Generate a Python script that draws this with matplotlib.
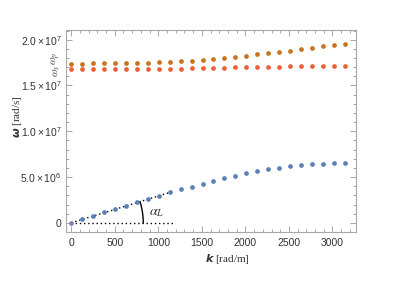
import numpy as np
import matplotlib
matplotlib.use("Agg")
import matplotlib.pyplot as plt
from matplotlib.ticker import MultipleLocator, FixedLocator, FixedFormatter
import matplotlib.transforms as mtrans

# ---- data ----
k_max = 1000 * np.pi
n_points = 26
k = np.linspace(0, k_max, n_points)

omega_p = np.array([1.740, 1.740, 1.741, 1.742, 1.743, 1.744, 1.745, 1.747, 1.753, 1.756,
                    1.764, 1.770, 1.781, 1.789, 1.800, 1.814, 1.825, 1.840, 1.851, 1.866,
                    1.880, 1.895, 1.913, 1.928, 1.942, 1.956]) * 1e7
omega_s = np.array([1.677, 1.678, 1.678, 1.679, 1.679, 1.680, 1.680, 1.681, 1.682, 1.683,
                    1.684, 1.686, 1.688, 1.691, 1.694, 1.697, 1.700, 1.702, 1.704, 1.706,
                    1.708, 1.710, 1.712, 1.714, 1.715, 1.716]) * 1e7
omega_L = np.array([0.00, 0.41, 0.77, 1.14, 1.53, 1.86, 2.26, 2.59, 2.95, 3.32,
                    3.65, 3.93, 4.26, 4.56, 4.85, 5.14, 5.40, 5.62, 5.84, 6.01,
                    6.16, 6.27, 6.38, 6.45, 6.49, 6.52]) * 1e6

tangent_k_end = 1180
tangent_slope = 2.93e3
ref_k_end = 1180

yticks = [0, 5e6, 1e7, 1.5e7, 2e7]
ytick_labels = ["0", r"$5.0\times10^{6}$", r"$1.0\times10^{7}$", r"$1.5\times10^{7}$", r"$2.0\times10^{7}$"]
xticks = [0, 500, 1000, 1500, 2000, 2500, 3000]

c_p = "#c8741c"
c_s = "#ec6038"
c_L = "#5b80b8"
c_0 = "#8a78b6"

plt.rcParams["font.family"] = ["Liberation Sans", "DejaVu Sans"]
plt.rcParams["mathtext.fontset"] = "custom"
plt.rcParams["mathtext.rm"] = "Liberation Sans"
plt.rcParams["mathtext.it"] = "Liberation Sans:italic"
plt.rcParams["mathtext.bf"] = "Liberation Sans:bold"
plt.rcParams["mathtext.bfit"] = "DejaVu Sans:bold:italic"

fig = plt.figure(figsize=(4.1, 2.9), dpi=100)
ax = fig.add_axes([66/410, 1-232/290, 290/410, 202/290])

# reference lines
ax.plot([0, ref_k_end], [0, 0], ls=(0, (1, 2)), color="black", lw=1.0, zorder=1)
ax.plot([0, tangent_k_end], [0, tangent_slope*tangent_k_end], ls=(0, (1, 2)), color="black", lw=1.0, zorder=1)

xlim = (-60, 3270)
ylim = (-1.0e6, 2.106e7)
ax.set_xlim(*xlim)
ax.set_ylim(*ylim)
fig.canvas.draw()
p0 = ax.transData.transform((0, 0))
p1 = ax.transData.transform((tangent_k_end, tangent_slope*tangent_k_end))
ang = np.arctan2(p1[1]-p0[1], p1[0]-p0[0])
r_px = 72
t = np.linspace(0, ang, 40)
pts = np.column_stack([p0[0] + r_px*np.cos(t), p0[1] + r_px*np.sin(t)])
arc_data = ax.transData.inverted().transform(pts)
ax.plot(arc_data[:, 0], arc_data[:, 1], color="black", lw=1.0, zorder=1)

ax.text(985, 1.17e6, r"$\alpha_L$", fontsize=10, ha="center", va="center",
        math_fontfamily="stix", color="#333333")

# series
ms = 3.4
ax.plot(k, omega_p, "o", color=c_p, ms=ms, mec="none", zorder=3)
ax.plot(k, omega_s, "o", color=c_s, ms=ms, mec="none", zorder=3)
ax.plot(k[1:], omega_L[1:], "o", color=c_L, ms=ms, mec="none", zorder=3)
ax.plot(k[:1], omega_L[:1], "o", color=c_0, ms=ms, mec="none", zorder=3)

# labels for omega_p / omega_s
trans = mtrans.blended_transform_factory(ax.transAxes, ax.transData)
ax.text(-0.033, 1.80e7, r"$\omega_p$", transform=trans, rotation=90,
        ha="center", va="center", fontsize=8, color="#555555", math_fontfamily="stix")
ax.text(-0.033, 1.665e7, r"$\omega_s$", transform=trans, rotation=90,
        ha="center", va="center", fontsize=8, color="#555555", math_fontfamily="stix")

# ticks
ax.xaxis.set_major_locator(FixedLocator(xticks))
ax.xaxis.set_minor_locator(MultipleLocator(100))
ax.yaxis.set_major_locator(FixedLocator(yticks))
ax.yaxis.set_major_formatter(FixedFormatter(ytick_labels))
ax.yaxis.set_minor_locator(MultipleLocator(1e6))
ax.tick_params(which="both", direction="in", top=True, right=True, color="#a8a8a8",
               labelsize=7.5, labelcolor="#333333", width=0.7)
ax.tick_params(which="major", length=4, pad=3)
ax.tick_params(which="minor", length=2.2)
ax.tick_params(axis="x", pad=4)
for s in ax.spines.values():
    s.set_color("#a8a8a8")
    s.set_linewidth(0.8)

fig.text(227/410, 1-259/290, r"$\boldsymbol{k}$ [rad/m]", ha="center", va="center",
         fontsize=8, family="Liberation Serif", color="#333333")
fig.text(18/410, 1-117/290, r"$\boldsymbol{\omega}$ [rad/s]", ha="center", va="center",
         rotation=90, fontsize=8, family="Liberation Serif", color="#333333")

fig.savefig("out.png", dpi=100)
